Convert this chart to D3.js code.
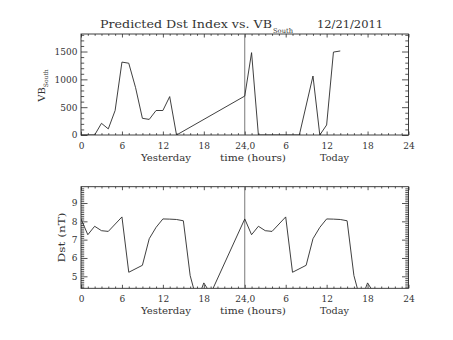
<!DOCTYPE html>
<html>
<head>
<meta charset="utf-8">
<script src="https://cdn.jsdelivr.net/npm/d3@7"></script>
<style>
  html, body { margin: 0; padding: 0; background: #fff; }
  svg { display: block; }
  text { font-family: "DejaVu Serif", "Liberation Serif", serif; fill: #333; }
</style>
</head>
<body>
<svg id="chart" width="453" height="340"></svg>
<script>
// ---------- data ----------
const xTickValues = [0, 6, 12, 18, 24, 30, 36, 42, 48];
const xTickLabels = ["0", "6", "12", "18", "24,0", "6", "12", "18", "24"];

// top panel: VB South (hours since start of yesterday)
const vbHours = [0, 1, 2, 3, 4, 5, 6, 7, 8, 9, 10, 11, 12, 13, 14, 24, 25, 26, 27, 28, 29, 30, 31, 32, 34, 35, 36, 37, 38];
const vbSouth = [0, 0, 0, 210, 110, 440, 1310, 1290, 850, 300, 280, 440, 440, 690, 0, 700, 1480, 0, 0, 0, 0, 0, 0, 0, 1060, 0, 180, 1490, 1510];
const vbTicks = [0, 500, 1000, 1500];

// bottom panel: Dst
const dstHoursYesterday = [0, 1, 2, 3, 4, 6, 7, 9, 10, 11, 12, 13, 14, 15, 16, 17, 18, 19];
const dstYesterday = [8.13, 7.27, 7.73, 7.49, 7.45, 8.24, 5.22, 5.6, 7.05, 7.67, 8.13, 8.12, 8.1, 8.03, 5.04, 3.65, 4.64, 4.05];
const dstHoursToday = [24, 25, 26, 27, 28, 30, 31, 33, 34, 35, 36, 37, 38, 39, 40, 41, 42, 43];
const dstToday = [8.13, 7.27, 7.73, 7.49, 7.45, 8.24, 5.22, 5.6, 7.05, 7.67, 8.13, 8.12, 8.1, 8.03, 5.04, 3.65, 4.64, 4.05];
const dstTicks = [5, 6, 7, 8, 9];

const titleMain = "Predicted Dst Index vs. VB";
const titleSub = "South";
const titleDate = "12/21/2011";
const xTitleParts = ["Yesterday", "time (hours)", "Today"];

// ---------- drawing ----------
const svg = d3.select("#chart");
const INK = "#2a2a2a";

function panel(cfg) {
  const { left, right, top, bottom, yDomain, yTicks, yMinorStep, series, id } = cfg;
  const x = d3.scaleLinear().domain([0, 48]).range([left, right]);
  const y = d3.scaleLinear().domain(yDomain).range([bottom, top]);
  const g = svg.append("g");

  svg.append("clipPath").attr("id", id).append("rect")
    .attr("x", left).attr("y", top).attr("width", right - left).attr("height", bottom - top);

  const minorX = d3.range(0, 49, 1).filter(h => h % 6 !== 0);
  const minorY = d3.range(Math.ceil(yDomain[0] / yMinorStep), Math.floor(yDomain[1] / yMinorStep) + 1)
    .map(k => +(k * yMinorStep).toFixed(4))
    .filter(v => !yTicks.some(t => Math.abs(t - v) < 1e-6));

  const styleAxis = sel => {
    sel.select(".domain").remove();
    sel.selectAll("line").attr("stroke", INK).attr("stroke-width", 0.8);
  };

  g.append("g").attr("transform", `translate(0,${bottom})`)
    .call(d3.axisBottom(x).tickValues(xTickValues).tickSize(-3.5).tickPadding(7.5)
      .tickFormat((d, i) => xTickLabels[i]))
    .call(styleAxis)
    .call(s => s.selectAll("text").attr("font-size", 9).attr("fill", "#333")
      .style("font-family", '"DejaVu Serif", serif'));
  g.append("g").attr("transform", `translate(0,${bottom})`)
    .call(d3.axisBottom(x).tickValues(minorX).tickSize(-1.8).tickFormat(""))
    .call(styleAxis);
  g.append("g").attr("transform", `translate(0,${top})`)
    .call(d3.axisTop(x).tickValues(xTickValues).tickSize(-3.5).tickFormat(""))
    .call(styleAxis);
  g.append("g").attr("transform", `translate(0,${top})`)
    .call(d3.axisTop(x).tickValues(minorX).tickSize(-1.8).tickFormat(""))
    .call(styleAxis);
  g.append("g").attr("transform", `translate(${left},0)`)
    .call(d3.axisLeft(y).tickValues(yTicks).tickSize(-6.5).tickPadding(3.5).tickFormat(d3.format("d")))
    .call(styleAxis)
    .call(s => s.selectAll("text").attr("font-size", 9).attr("fill", "#333")
      .style("font-family", '"DejaVu Serif", serif'));
  g.append("g").attr("transform", `translate(${left},0)`)
    .call(d3.axisLeft(y).tickValues(minorY).tickSize(-3.2).tickFormat(""))
    .call(styleAxis);
  g.append("g").attr("transform", `translate(${right},0)`)
    .call(d3.axisRight(y).tickValues(yTicks).tickSize(-6.5).tickFormat(""))
    .call(styleAxis);
  g.append("g").attr("transform", `translate(${right},0)`)
    .call(d3.axisRight(y).tickValues(minorY).tickSize(-3.2).tickFormat(""))
    .call(styleAxis);

  g.append("rect").attr("x", left).attr("y", top)
    .attr("width", right - left).attr("height", bottom - top)
    .attr("fill", "none").attr("stroke", INK).attr("stroke-width", 0.9);

  g.append("line").attr("x1", x(24)).attr("x2", x(24)).attr("y1", top).attr("y2", bottom)
    .attr("stroke", "#555").attr("stroke-width", 0.8);

  const line = d3.line().x(d => x(d[0])).y(d => y(d[1]));
  series.forEach(s => {
    g.append("path")
      .datum(s.hours.map((h, i) => [h, s.values[i]]))
      .attr("d", line)
      .attr("fill", "none").attr("stroke", INK).attr("stroke-width", 0.9)
      .attr("stroke-linejoin", "miter")
      .attr("clip-path", `url(#${id})`);
  });

  const xt = [
    { t: xTitleParts[0], cx: 166, len: 50 },
    { t: xTitleParts[1], cx: 253, len: 66 },
    { t: xTitleParts[2], cx: 334.5, len: 29 }
  ];
  xt.forEach(p => {
    g.append("text").attr("x", p.cx).attr("y", bottom + 25.5)
      .attr("text-anchor", "middle").attr("font-size", 9.5)
      .attr("textLength", p.len).attr("lengthAdjust", "spacingAndGlyphs")
      .text(p.t);
  });
  return { x, y, g };
}

panel({
  id: "clipTop", left: 81, right: 408.5, top: 34, bottom: 135,
  yDomain: [0, 1815], yTicks: vbTicks, yMinorStep: 100,
  series: [{ hours: vbHours, values: vbSouth }]
});

panel({
  id: "clipBot", left: 81, right: 408.5, top: 186.7, bottom: 288.3,
  yDomain: [4.345, 9.89], yTicks: dstTicks, yMinorStep: 0.1,
  series: [
    { hours: dstHoursYesterday.concat(dstHoursToday), values: dstYesterday.concat(dstToday) }
  ]
});

const title = svg.append("g");
title.append("text").attr("x", 100).attr("y", 28).attr("font-size", 10.5)
  .attr("textLength", 172).attr("lengthAdjust", "spacingAndGlyphs").text(titleMain);
title.append("text").attr("x", 273).attr("y", 32.5).attr("font-size", 6.5)
  .attr("textLength", 20).attr("lengthAdjust", "spacingAndGlyphs").text(titleSub);
title.append("text").attr("x", 383).attr("y", 28).attr("font-size", 10.5)
  .attr("text-anchor", "end")
  .attr("textLength", 66).attr("lengthAdjust", "spacingAndGlyphs").text(titleDate);

const yt1 = svg.append("text")
  .attr("transform", `translate(45,${(34 + 135) / 2 + 1}) rotate(-90)`)
  .attr("text-anchor", "middle").attr("font-size", 10);
yt1.append("tspan").text("VB");
yt1.append("tspan").attr("font-size", 6).attr("dy", 3).text("South");

svg.append("text")
  .attr("transform", `translate(64.5,${(186.7 + 288.3) / 2}) rotate(-90)`)
  .attr("text-anchor", "middle").attr("font-size", 9.5)
  .attr("textLength", 50).attr("lengthAdjust", "spacingAndGlyphs")
  .text("Dst (nT)");
</script>
</body>
</html>
